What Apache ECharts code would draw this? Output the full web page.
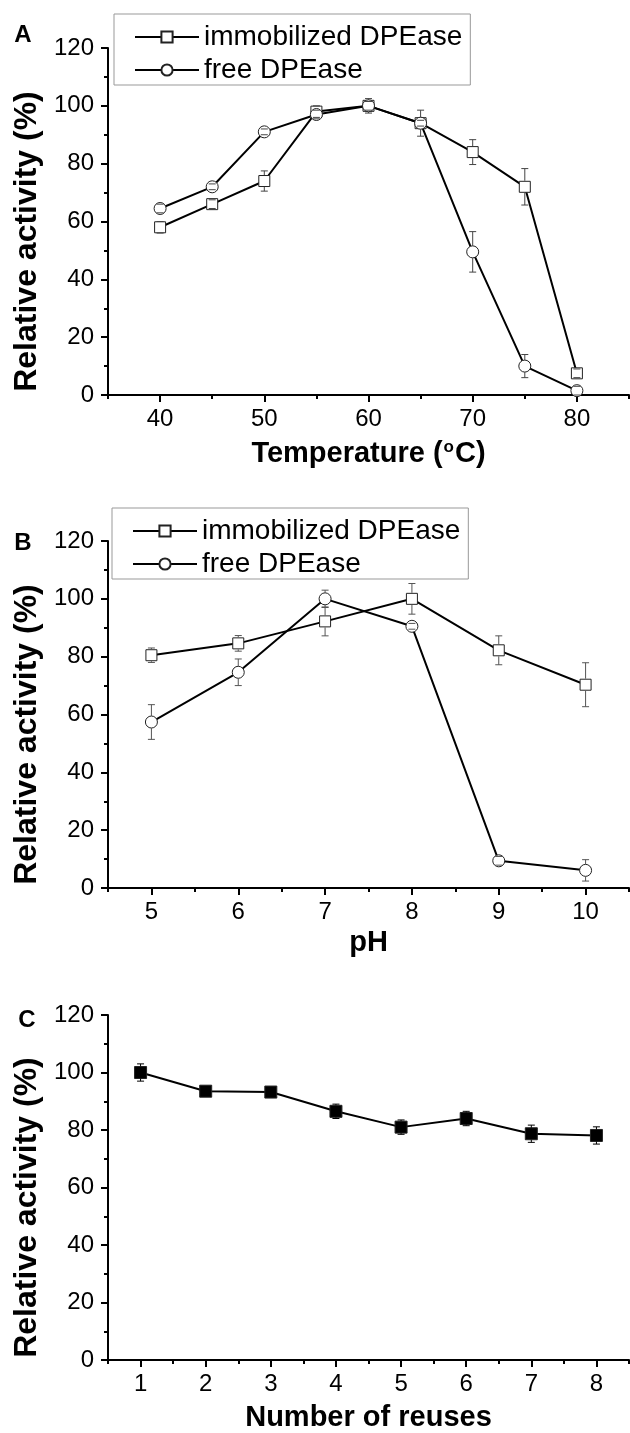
<!DOCTYPE html>
<html>
<head>
<meta charset="utf-8">
<script src="https://cdn.jsdelivr.net/npm/echarts@6/dist/echarts.min.js"></script>
<style>
  html, body { margin: 0; padding: 0; background: #fff; }
  #chart { width: 630px; height: 1433px; }
</style>
</head>
<body>
<div id="chart"></div>
<script>
// Panel A - temperature
var tempX = [40, 45, 50, 55, 60, 65, 70, 75, 80];
var tempImmob = [58, 66, 74, 98, 100, 94, 84, 72, 7.5];
var tempImmobErr = [2, 1.5, 3.5, 2, 2.5, 4.5, 4.3, 6.3, 1.5];
var tempFree = [64.5, 72, 91, 97, 100, 94, 49.5, 10, 1.5];
var tempFreeErr = [1.5, 1, 1, 1.5, 1.5, 1, 7, 4, 1.5];
var tempTicks = [40, 50, 60, 70, 80];

// Panel B - pH
var phX = [5, 6, 7, 8, 9, 10];
var phImmob = [80.5, 84.6, 92.2, 100, 82.2, 70.3];
var phImmobErr = [2.5, 2.7, 5, 5.3, 5, 7.6];
var phFree = [57.4, 74.6, 100, 90.5, 9.4, 6.1];
var phFreeErr = [6, 4.6, 3, 1, 1.5, 3.7];
var phTicks = [5, 6, 7, 8, 9, 10];

// Panel C - reuse
var reuseX = [1, 2, 3, 4, 5, 6, 7, 8];
var reuseVal = [100, 93.5, 93.2, 86.5, 81, 84, 78.7, 78.1];
var reuseErr = [3, 1, 1.5, 2.5, 2.5, 2.5, 3, 3];
var reuseTicks = [1, 2, 3, 4, 5, 6, 7, 8];

var seriesNames = ['immobilized DPEase', 'free DPEase'];
var panelLetters = ['A', 'B', 'C'];

var FONT = "'Liberation Sans', Arial, sans-serif";

function pairs(xs, ys) {
    var out = [];
    for (var i = 0; i < xs.length; i++) out.push([xs[i], ys[i]]);
    return out;
}
function triples(xs, ys, es) {
    var out = [];
    for (var i = 0; i < xs.length; i++) out.push([xs[i], ys[i], es[i]]);
    return out;
}

// error bars: stems only outside the marker, caps always drawn
function errRender(params, api) {
    var x = api.value(0), y = api.value(1), e = api.value(2);
    var c = api.coord([x, y]);
    var hi = api.coord([x, y + e]);
    var lo = api.coord([x, y - e]);
    var r = 6, w = 3.5;
    var col = api.visual('color');
    var st = { stroke: col, lineWidth: 1 };
    var kids = [];
    if (hi[1] < c[1] - r) {
        kids.push({ type: 'line', shape: { x1: c[0], y1: hi[1], x2: c[0], y2: c[1] - r }, style: st });
    }
    if (lo[1] > c[1] + r) {
        kids.push({ type: 'line', shape: { x1: c[0], y1: c[1] + r, x2: c[0], y2: lo[1] }, style: st });
    }
    kids.push({ type: 'line', shape: { x1: c[0] - w, y1: hi[1], x2: c[0] + w, y2: hi[1] }, style: st });
    kids.push({ type: 'line', shape: { x1: c[0] - w, y1: lo[1], x2: c[0] + w, y2: lo[1] }, style: st });
    return { type: 'group', children: kids };
}

var gridTops = [48, 541, 1015];
var grids = gridTops.map(function (t) {
    return { left: 108, right: 1, top: t, height: 347 };
});

var xRanges = [[35, 85, 5], [4.5, 10.5, 0.5], [0.5, 8.5, 0.5]];
var xMajor = [tempTicks, phTicks, reuseTicks];
var xNames = ['Temperature ({sup|o}C)', 'pH', 'Number of reuses'];
var xNameGaps = [44, 40, 43];

var xAxes = [];
for (var p = 0; p < 3; p++) {
    // main axis: line + minor ticks + title
    xAxes.push({
        type: 'value', gridIndex: p, position: 'bottom',
        min: xRanges[p][0], max: xRanges[p][1], interval: xRanges[p][2],
        splitLine: { show: false },
        axisLine: { show: true, onZero: false, lineStyle: { color: '#000', width: 2 } },
        axisTick: { show: true, length: 4, lineStyle: { color: '#000', width: 2 } },
        axisLabel: { show: false },
        name: xNames[p], nameLocation: 'middle', nameGap: xNameGaps[p],
        nameTextStyle: {
            fontFamily: FONT, fontSize: 29, fontWeight: 'bold', color: '#000',
            rich: { sup: { fontFamily: FONT, fontSize: 17, fontWeight: 'bold', color: '#000', verticalAlign: 'top', padding: [0, 1, 0, 1] } }
        }
    });
    // overlay axis: major ticks + labels
    xAxes.push({
        type: 'value', gridIndex: p, position: 'bottom',
        min: xRanges[p][0], max: xRanges[p][1],
        splitLine: { show: false },
        axisLine: { show: false, onZero: false },
        axisTick: { show: true, length: 7, customValues: xMajor[p], lineStyle: { color: '#000', width: 2 } },
        axisLabel: { show: true, customValues: xMajor[p], margin: 12, fontFamily: FONT, fontSize: 24, color: '#000' }
    });
}

var yAxes = [0, 1, 2].map(function (p) {
    return {
        type: 'value', gridIndex: p, min: 0, max: 120, interval: 20,
        splitLine: { show: false },
        axisLine: { show: true, onZero: false, lineStyle: { color: '#000', width: 2 } },
        axisTick: { show: true, length: 7, lineStyle: { color: '#000', width: 2 } },
        minorTick: { show: true, splitNumber: 2, length: 4, lineStyle: { color: '#000', width: 2 } },
        axisLabel: { margin: 14, fontFamily: FONT, fontSize: 24, color: '#000' },
        name: 'Relative activity (%)', nameLocation: 'middle', nameGap: 64,
        nameTextStyle: { fontFamily: FONT, fontSize: 32, fontWeight: 'bold', color: '#000', padding: [0, 40, 0, 0] }
    };
});

function lineSeries(name, xi, yi, data, symbol, size, fill) {
    return {
        name: name, type: 'line', xAxisIndex: xi, yAxisIndex: yi,
        data: data, symbol: symbol, symbolSize: size, showSymbol: true,
        lineStyle: { color: '#000', width: 2 },
        itemStyle: { color: fill, borderColor: '#222', borderWidth: 1 },
        z: 3
    };
}
function errSeries(xi, yi, data, col) {
    return {
        type: 'custom', xAxisIndex: xi, yAxisIndex: yi,
        data: data, renderItem: errRender,
        itemStyle: { color: col }, z: 4, silent: true
    };
}

var legendBase = {
    orient: 'vertical', data: seriesNames,
    itemWidth: 64, itemHeight: 14, itemGap: 5,
    borderColor: '#999', borderWidth: 1, borderRadius: 0,
    padding: [9, 8, 1, 20],
    textStyle: { fontFamily: FONT, fontSize: 28, color: '#000' }
};

// panel letters placed beside each y axis top
var letterPos = [[23, 35], [23, 543], [27, 1020]];
var letters = panelLetters.map(function (t, i) {
    return {
        type: 'text', x: letterPos[i][0], y: letterPos[i][1],
        style: {
            text: t, fontFamily: FONT, fontSize: 24, fontWeight: 'bold', fill: '#000',
            align: 'center', verticalAlign: 'middle'
        }
    };
});

var option = {
    animation: false,
    backgroundColor: '#fff',
    grid: grids,
    xAxis: xAxes,
    yAxis: yAxes,
    legend: [
        Object.assign({}, legendBase, { left: 114, top: 14 }),
        Object.assign({}, legendBase, { left: 112, top: 508 })
    ],
    graphic: letters,
    series: [
        lineSeries(seriesNames[0], 0, 0, pairs(tempX, tempImmob), 'rect', 11, '#fff'),
        lineSeries(seriesNames[1], 0, 0, pairs(tempX, tempFree), 'circle', 12, '#fff'),
        errSeries(0, 0, triples(tempX, tempImmob, tempImmobErr), '#444'),
        errSeries(0, 0, triples(tempX, tempFree, tempFreeErr), '#444'),

        lineSeries(seriesNames[0], 2, 1, pairs(phX, phImmob), 'rect', 11, '#fff'),
        lineSeries(seriesNames[1], 2, 1, pairs(phX, phFree), 'circle', 12, '#fff'),
        errSeries(2, 1, triples(phX, phImmob, phImmobErr), '#555'),
        errSeries(2, 1, triples(phX, phFree, phFreeErr), '#555'),

        lineSeries('reuse', 4, 2, pairs(reuseX, reuseVal), 'rect', 12, '#000'),
        errSeries(4, 2, triples(reuseX, reuseVal, reuseErr), '#000')
    ]
};

var chart = echarts.init(document.getElementById('chart'));
chart.setOption(option);
</script>
</body>
</html>
